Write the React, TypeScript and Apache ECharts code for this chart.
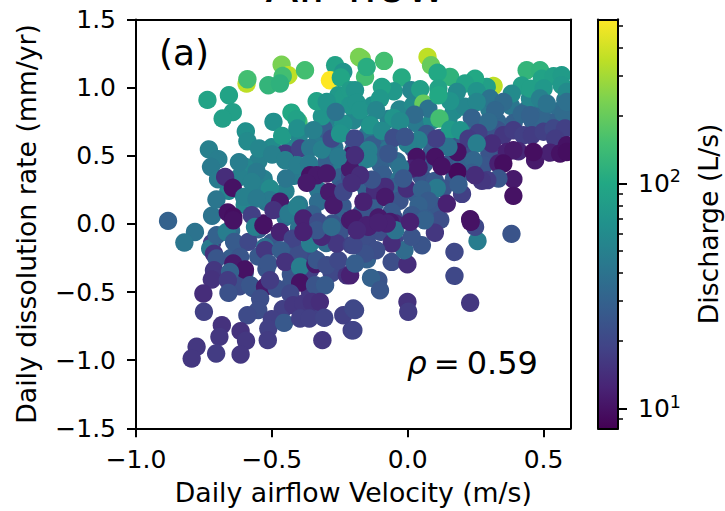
import React, { useEffect, useRef } from "react";
import * as echarts from "echarts";

// [daily airflow velocity (m/s), daily dissolution rate (mm/yr), discharge (L/s)]
const denseCore = [
  [-0.2,0.85,60],[-0.13,0.87,65],[-0.03,0.84,55],[0.02,0.88,60],[0.17,0.83,60],[0.21,0.86,55],[0.3,0.85,45],
  [0.38,0.87,42],[0.44,0.84,38],[0.5,0.86,38],[0.56,0.83,36],[0.58,0.92,42],[0.45,0.92,55],
  [-0.3,0.75,50],[-0.2,0.76,55],[-0.14,0.74,55],[-0.07,0.77,50],[0.03,0.74,45],[0.09,0.76,60],[0.15,0.77,60],
  [0.25,0.72,40],[0.33,0.75,32],[0.39,0.74,30],[0.46,0.76,30],[0.53,0.74,30],[0.58,0.76,28],[0.49,0.79,32],
  [-0.4,0.65,55],[-0.33,0.63,45],[-0.27,0.66,55],[-0.15,0.65,40],[-0.1,0.62,35],[-0.03,0.67,45],[0.07,0.66,26],
  [0.12,0.63,30],[0.19,0.6,30],[0.29,0.65,25],[0.33,0.69,24],
  [-0.5,0.57,60],[-0.43,0.55,55],[-0.27,0.56,40],[-0.2,0.54,35],[-0.13,0.58,28],[-0.07,0.55,40],[0.02,0.56,24],
  [0.09,0.54,28],[0.17,0.58,24],[0.21,0.54,22],[0.3,0.53,24],
  [-0.55,0.46,50],[-0.6,0.42,55],[-0.3,0.45,30],[-0.24,0.43,45],[-0.16,0.47,40],[-0.1,0.44,30],[-0.04,0.46,35],
  [0.06,0.45,26],[0.15,0.44,24],[0.2,0.46,30],[0.28,0.43,25],
  [-0.62,0.35,50],[-0.53,0.33,50],[-0.42,0.36,45],[-0.25,0.34,30],[-0.17,0.3,45],[-0.09,0.36,28],[-0.03,0.33,40],
  [0.05,0.35,24],[0.1,0.32,26],[0.17,0.33,26],
  [-0.66,0.25,55],[-0.55,0.26,48],[-0.45,0.24,50],[-0.33,0.25,42],[-0.24,0.26,26],[-0.15,0.24,30],[-0.05,0.27,30],
  [0.03,0.22,28],[0.13,0.26,24],[0.2,0.22,18],
  [-0.6,0.14,55],[-0.52,0.16,42],[-0.4,0.14,45],[-0.33,0.16,36],[-0.24,0.13,26],[-0.12,0.15,28],[-0.03,0.17,24],
  [0.1,0.14,26],[-0.17,0.08,26],
  [-0.72,0.06,40],[-0.45,0.05,40],[-0.35,0.07,30],[-0.24,0.04,30],[-0.15,0.06,24],[-0.05,0.04,22],[0.05,0.07,24],[0.12,0.03,22],
  [-0.65,-0.05,35],[-0.55,-0.04,30],[-0.47,-0.06,28],[-0.4,-0.03,40],[-0.25,-0.07,24],[-0.1,-0.05,22],[0.1,-0.06,16],
  [-0.72,-0.14,18],[-0.62,-0.16,24],[-0.5,-0.13,25],[-0.42,-0.16,22],[-0.3,-0.14,35],[-0.15,-0.13,22],[-0.05,-0.11,20],
  [-0.65,-0.25,28],[-0.55,-0.24,26],[-0.45,-0.23,24],[-0.35,-0.25,20],[-0.15,-0.26,30],
  [-0.6,-0.36,26],[-0.52,-0.33,25],[-0.43,-0.37,24],[-0.36,-0.34,18],[-0.28,-0.36,20],
  [-0.62,-0.45,22],[-0.57,-0.47,24],[-0.43,-0.44,24],[-0.36,-0.5,16],[-0.46,-0.62,18],[-0.34,-0.63,18],
];
const upperLeft = [
  [-0.464,1.169,230],[-0.439,1.091,355],[-0.593,1.03,355],[-0.59,1.062,150],[-0.46,1.091,150],[-0.378,1.128,150],
  [-0.513,1.018,125],[-0.47,1.03,118],[-0.737,0.91,91],[-0.658,0.944,91],[-0.644,0.827,85],[-0.681,0.773,85],
  [-0.596,0.687,65],[-0.59,0.607,60],[-0.494,0.749,65],[-0.462,0.646,80],[-0.428,0.822,100],[-0.402,0.749,150],
  [-0.409,0.768,90],[-0.406,0.7,65],[-0.732,0.553,50],[-0.697,0.475,48],[-0.724,0.426,45],[-0.621,0.453,48],
  [-0.698,0.328,46],[-0.704,0.179,42],[-0.672,0.345,14],[-0.644,0.272,10],[-0.882,0.022,30],[-0.662,0.084,10],
  [-0.642,0.052,9.5],[-0.531,0.003,10],[-0.547,0.553,55],[-0.451,0.516,16],[-0.499,0.509,50],[-0.556,0.382,45],
  [-0.451,0.467,50],[-0.396,0.553,18],[-0.359,0.558,42],[-0.316,0.553,50],[-0.406,0.431,48],[-0.363,0.443,45],
  [-0.448,0.333,42],[-0.574,0.308,50],[-0.507,0.26,60],[-0.602,0.198,50],[-0.507,0.174,45],[-0.556,0.186,45],
  [-0.47,0.162,11],[-0.494,0.101,15],[-0.439,0.076,45],[-0.408,0.125,50],[-0.574,0.064,18],[-0.359,0.357,10],
  [-0.335,0.357,11],[-0.298,0.37,11],[-0.372,0.309,11],[-0.289,0.235,11],[-0.273,0.137,11],[-0.384,0.04,12],
  [-0.329,0.015,22],[-0.277,0.003,24],[-0.212,0.027,11],[-0.237,0.235,20],[-0.212,0.35,20],[-0.206,0.504,11],
  [-0.212,0.406,11],[-0.255,0.492,45],[-0.202,0.626,22],[-0.31,0.7,28],[-0.28,0.626,20],[-0.237,0.736,65],
  [-0.249,0.663,70],[-0.316,0.797,70],[-0.335,0.9,90],[-0.267,1.164,90],[-0.286,1.054,540],[-0.237,1.115,70],
  [-0.246,1.074,95],[-0.169,1.213,230],[-0.255,0.944,75],[-0.237,0.932,80],[-0.298,0.895,70],[-0.212,0.981,80],
  [-0.212,0.87,70],[-0.347,0.688,50],[-0.265,0.822,40],
];
const upperRight = [
  [-0.179,1.225,230],[-0.157,1.079,150],[-0.151,1.152,110],[-0.087,1.196,150],[0.073,1.225,355],[0.086,1.164,200],
  [0.156,1.086,120],[0.11,1.11,100],[-0.022,1.074,105],[-0.052,0.981,75],[-0.095,1.005,90],[0.013,0.981,55],
  [0.046,0.988,85],[-0.194,0.981,70],[-0.188,0.895,70],[-0.102,0.92,75],[0.316,1.022,355],[0.291,1.005,85],
  [0.113,0.993,90],[0.248,1.066,100],[0.211,1.03,90],[0.181,0.969,60],[0.254,0.973,70],[0.156,0.908,70],
  [0.303,0.92,40],[0.254,0.895,55],[0.058,0.883,200],[0.076,0.851,40],[0.113,0.944,100],[0.117,0.773,150],
  [0.025,0.802,35],[-0.175,0.834,70],[-0.116,0.834,55],[-0.052,0.785,70],[-0.028,0.753,60],[-0.138,0.724,70],
  [-0.095,0.683,60],[0.156,0.7,80],[0.236,0.785,30],[0.193,0.687,70],[0.438,1.128,125],[0.487,1.128,120],
  [0.494,1.066,90],[0.537,1.084,85],[0.567,1.091,80],[0.42,1.018,85],[0.451,0.993,85],[0.5,1.005,75],
  [0.567,1.018,75],[0.586,0.969,60],[0.383,0.956,60],[0.352,0.895,35],[0.322,0.834,33],[0.42,0.81,33],
  [0.451,0.797,30],[0.487,0.92,50],[0.512,0.883,40],[0.573,0.81,35],[0.586,0.895,38],[0.297,0.749,35],
  [0.26,0.675,18],[0.352,0.651,16],[0.389,0.687,17],[0.426,0.651,18],[0.457,0.651,17],[0.5,0.687,18],
  [0.537,0.7,20],[0.579,0.7,18],[0.543,0.626,17],[0.31,0.59,14],[0.224,0.626,17],[0.254,0.59,48],
  [0.469,0.467,11],[0.334,0.443,12],[0.365,0.528,12],[0.408,0.533,13],[0.389,0.54,11],[0.524,0.528,12],
  [0.561,0.516,10],[0.586,0.577,10],[0.586,0.528,9.5],[0.463,0.528,9.5],[0.352,0.443,9.5],[0.242,0.467,32],
  [0.236,0.382,28],[0.183,0.528,10],[0.183,0.382,9],[0.15,0.565,40],[0.105,0.626,18],[0.04,0.614,50],
  [-0.001,0.59,50],[-0.052,0.639,22],[-0.01,0.639,24],[-0.194,0.626,20],[-0.089,0.504,30],[-0.071,0.516,25],
  [-0.145,0.541,50],[-0.145,0.48,50],[0.101,0.492,10],[0.125,0.423,10],[0.033,0.492,10],[0.015,0.406,12],
  [0.04,0.413,11],[-0.194,0.504,14],[0.389,0.328,11],[0.389,0.206,10],[0.334,0.333,25],[0.293,0.321,17],
  [0.273,0.316,16],[0.248,0.357,14],[0.187,0.289,28],[0.107,0.264,45],[-0.003,0.26,14],[-0.083,0.272,14],
  [-0.12,0.247,14],[-0.132,0.333,24],[-0.175,0.357,14],[-0.206,0.3,14],[-0.163,0.162,12],[-0.083,0.198,11],
  [-0.028,0.418,40],[-0.016,0.333,26],[0.052,0.26,30],[0.076,0.174,27],[0.144,0.149,12],[0.04,0.137,30],
  [0.064,0.039,28],[0.015,0.064,26],[-0.059,0.088,26],[0.23,0.035,10],[-0.046,0.003,13],[-0.108,0.052,11],
  [-0.2,0.04,11],[-0.151,-0.009,12],[-0.065,0.015,11],
];
const lowerLeft = [
  [-0.783,-0.059,40],[-0.822,-0.137,42],[-0.727,-0.181,45],[-0.703,-0.083,30],[-0.666,-0.059,47],[-0.639,-0.132,27],
  [-0.586,-0.132,20],[-0.713,-0.218,15],[-0.703,-0.254,25],[-0.617,-0.242,25],[-0.525,-0.169,38],[-0.525,-0.193,16],
  [-0.562,-0.022,50],[-0.47,-0.059,12],[-0.423,-0.108,19],[-0.402,-0.23,22],[-0.467,-0.193,28],[-0.513,-0.291,25],
  [-0.451,-0.279,15],[-0.642,-0.291,11],[-0.599,-0.335,10],[-0.713,-0.34,16],[-0.654,-0.352,30],[-0.721,-0.408,15],
  [-0.662,-0.413,17],[-0.58,-0.442,25],[-0.66,-0.499,23],[-0.752,-0.511,14],[-0.75,-0.645,18],[-0.525,-0.462,11],
  [-0.482,-0.474,23],[-0.507,-0.413,17],[-0.543,-0.548,22],[-0.55,-0.633,22],[-0.59,-0.67,21],[-0.684,-0.743,15],
  [-0.693,-0.829,16],[-0.705,-0.951,17],[-0.777,-0.902,16],[-0.795,-0.988,16],[-0.615,-0.787,15],[-0.595,-0.858,16],
  [-0.615,-0.958,16],[-0.5,-0.694,18],[-0.513,-0.768,18],[-0.515,-0.853,17],[-0.455,-0.726,26],[-0.396,-0.315,48],
  [-0.396,-0.43,10],[-0.341,-0.45,24],[-0.304,-0.45,27],[-0.432,-0.511,20],[-0.421,-0.597,16],[-0.384,-0.584,16],
  [-0.353,-0.572,15],[-0.323,-0.572,14],[-0.396,-0.694,18],[-0.362,-0.694,18],[-0.307,-0.689,19],[-0.237,-0.67,18],
  [-0.2,-0.621,20],[-0.206,-0.78,18],[-0.314,-0.853,16],[-0.224,-0.377,15],[-0.34,-0.29,11],[-0.335,-0.266,25],
  [-0.298,-0.303,22],[-0.255,-0.266,20],[-0.359,-0.144,48],[-0.261,-0.144,16],[-0.206,-0.156,18],[-0.317,-0.095,13],
  [-0.335,-0.046,25],[-0.28,-0.022,35],[-0.384,-0.059,12],[-0.531,-0.01,10],[-0.642,0.027,10],
];
const lowerRight = [
  [0.382,-0.073,24],[0.257,-0.125,47],[0.248,-0.022,20],[0.232,0.015,10],[0.172,-0.198,20],[0.172,-0.374,20],
  [0.23,-0.579,16],[-0.001,-0.572,15],[0.002,-0.645,17],[-0.194,-0.633,20],[-0.2,-0.78,19],[-0.108,-0.408,24],
  [-0.135,-0.396,30],[-0.102,-0.487,25],[-0.059,-0.279,22],[-0.001,-0.296,14],[-0.012,-0.188,35],[0.052,-0.149,24],
  [0.015,-0.095,24],[-0.059,-0.144,14],[-0.046,-0.046,40],[-0.077,0.003,12],[0.062,0.027,30],[0.009,0.015,12],
  [-0.116,-0.193,22],[-0.157,-0.218,23],[-0.2,-0.156,20],[-0.212,-0.377,12],[-0.194,-0.291,28],[-0.145,-0.022,12],
  [-0.187,-0.046,13],[-0.108,0.015,12],
];

const xTickLabels = [-1.0, -0.5, 0, 0.5];
const yTickLabels = [-1.5, -1.0, -0.5, 0, 0.5, 1.0, 1.5];
const barMajorTicks = [10, 100];
const barMinorTicks = [9, 20, 30, 40, 50, 60, 70, 80, 90, 200, 300, 400, 500];
const dischargeMin = 8.17;
const dischargeMax = 535;
const viridis = ["#440154","#482475","#414487","#355f8d","#2a788e","#21918c","#22a884","#44bf70","#7ad151","#bddf26","#fde725"];

const FONT = "DejaVu Sans";
const TICK_FS = 25;
const NAME_FS = 26.7;
const lg = (v: number) => Math.log10(v);
const minusFmt = (v: number) => v.toFixed(1).replace("-", "\u2212");

export default function App() {
  const ref = useRef<HTMLDivElement>(null);
  useEffect(() => {
    document.body.style.margin = "0";
    const chart = echarts.init(ref.current!, null, { renderer: "svg" });
    const all = [...denseCore, ...upperLeft, ...lowerLeft, ...upperRight, ...lowerRight];
    const line = { show: true, onZero: false, lineStyle: { color: "#000", width: 2 } };
    const none = { show: false };
    const mainX = { type: "value", gridIndex: 0, min: -1, max: 0.6, splitLine: none, z: 5 };
    const mainY = { type: "value", gridIndex: 0, min: -1.5, max: 1.5, splitLine: none, z: 5 };
    const cx = { type: "value", gridIndex: 1, min: 0, max: 1, splitLine: none, axisTick: none, axisLabel: none, axisLine: line, z: 5 };
    const cy = { type: "value", gridIndex: 1, min: lg(dischargeMin), max: lg(dischargeMax), splitLine: none, z: 5 };
    chart.setOption({
      animation: false,
      backgroundColor: "#fff",
      textStyle: { fontFamily: FONT },
      title: {
        text: "Air flow", left: 350.5, top: -44, textAlign: "center",
        textStyle: { fontFamily: FONT, fontSize: 48, fontWeight: "normal", color: "#000" },
      },
      grid: [
        { left: 136, top: 19.5, width: 434.7, height: 408.8, outerBoundsMode: "none" },
        { left: 598, top: 19.5, width: 20, height: 408.8, outerBoundsMode: "none" },
      ],
      xAxis: [
        {
          ...mainX, position: "bottom", axisLine: line,
          axisTick: { show: true, length: 9, lineStyle: { width: 2, color: "#000" }, customValues: xTickLabels },
          axisLabel: { customValues: xTickLabels, formatter: minusFmt, fontFamily: FONT, fontSize: TICK_FS, color: "#000", margin: 19 },
          name: "Daily airflow Velocity (m/s)", nameLocation: "middle", nameGap: 51,
          nameTextStyle: { fontFamily: FONT, fontSize: NAME_FS, color: "#000" },
        },
        { ...mainX, position: "top", axisLine: line, axisTick: none, axisLabel: none },
        { ...cx, position: "bottom" },
        { ...cx, position: "top" },
      ],
      yAxis: [
        {
          ...mainY, position: "left", axisLine: line,
          axisTick: { show: true, length: 9, lineStyle: { width: 2, color: "#000" }, customValues: yTickLabels },
          axisLabel: { customValues: yTickLabels, formatter: minusFmt, fontFamily: FONT, fontSize: TICK_FS, color: "#000", margin: 20 },
          name: "Daily dissolution rate (mm/yr)", nameLocation: "middle", nameGap: 96,
          nameTextStyle: { fontFamily: FONT, fontSize: NAME_FS, color: "#000" },
        },
        { ...mainY, position: "right", axisLine: line, axisTick: none, axisLabel: none },
        {
          ...cy, position: "right", axisLine: line,
          axisTick: { show: true, length: 5, lineStyle: { width: 1.5, color: "#000" }, customValues: barMinorTicks.map(lg) },
          axisLabel: none,
        },
        {
          ...cy, position: "right", axisLine: line,
          axisTick: { show: true, length: 9, lineStyle: { width: 2, color: "#000" }, customValues: barMajorTicks.map(lg) },
          axisLabel: {
            customValues: barMajorTicks.map(lg),
            margin: 20,
            formatter: (v: number) => `{b|10}{s|${Math.round(v)}}`,
            rich: {
              b: { fontFamily: FONT, fontSize: TICK_FS, color: "#000" },
              s: { fontFamily: FONT, fontSize: 17.5, color: "#000", verticalAlign: "top", padding: [0, 0, 14, 0] },
            },
          },
          name: "Discharge (L/s)", nameLocation: "middle", nameGap: 77, nameRotate: 90,
          nameTextStyle: { fontFamily: FONT, fontSize: NAME_FS, color: "#000" },
        },
        { ...cy, position: "left", axisLine: line, axisTick: none, axisLabel: none },
      ],
      visualMap: {
        show: false, type: "continuous", seriesIndex: 0, dimension: 3,
        min: lg(dischargeMin), max: lg(dischargeMax),
        inRange: { color: viridis },
      },
      series: [
        {
          type: "custom", xAxisIndex: 0, yAxisIndex: 0, clip: true,
          encode: { x: 0, y: 1 },
          data: all.map((p) => [p[0], p[1], p[2], lg(p[2])]),
          renderItem: (_p: any, api: any) => {
            const [x, y] = api.coord([api.value(0), api.value(1)]);
            return { type: "circle", shape: { cx: x, cy: y, r: 9.2 }, style: { fill: api.visual("color") } };
          },
        },
        {
          type: "custom", xAxisIndex: 2, yAxisIndex: 2, clip: true,
          encode: { x: 0, y: 1 },
          data: [[0, lg(dischargeMin), 1, lg(dischargeMax)]],
          renderItem: (_p: any, api: any) => {
            const a = api.coord([api.value(0), api.value(1)]);
            const b = api.coord([api.value(2), api.value(3)]);
            return {
              type: "rect",
              shape: { x: a[0], y: b[1], width: b[0] - a[0], height: a[1] - b[1] },
              style: {
                fill: {
                  type: "linear", x: 0, y: 1, x2: 0, y2: 0,
                  colorStops: viridis.map((c, i) => ({ offset: i / (viridis.length - 1), color: c })),
                },
              },
            };
          },
        },
      ],
      graphic: [
        { type: "text", left: 159, top: 34, z: 10, style: { text: "(a)", fontFamily: FONT, fontSize: 36, fill: "#000" } },
        {
          type: "text", left: 407, top: 347, z: 10,
          style: {
            text: "{i|\u03c1}{n|=}{m|0.59}",
            rich: {
              i: { fontFamily: FONT, fontSize: 31, fontStyle: "italic", fill: "#000" },
              n: { fontFamily: FONT, fontSize: 31, fill: "#000", padding: [0, 7, 0, 7] },
              m: { fontFamily: FONT, fontSize: 32, fill: "#000" },
            },
          },
        },
      ],
    });
    return () => chart.dispose();
  }, []);
  return <div ref={ref} style={{ width: 725, height: 511 }} />;
}
